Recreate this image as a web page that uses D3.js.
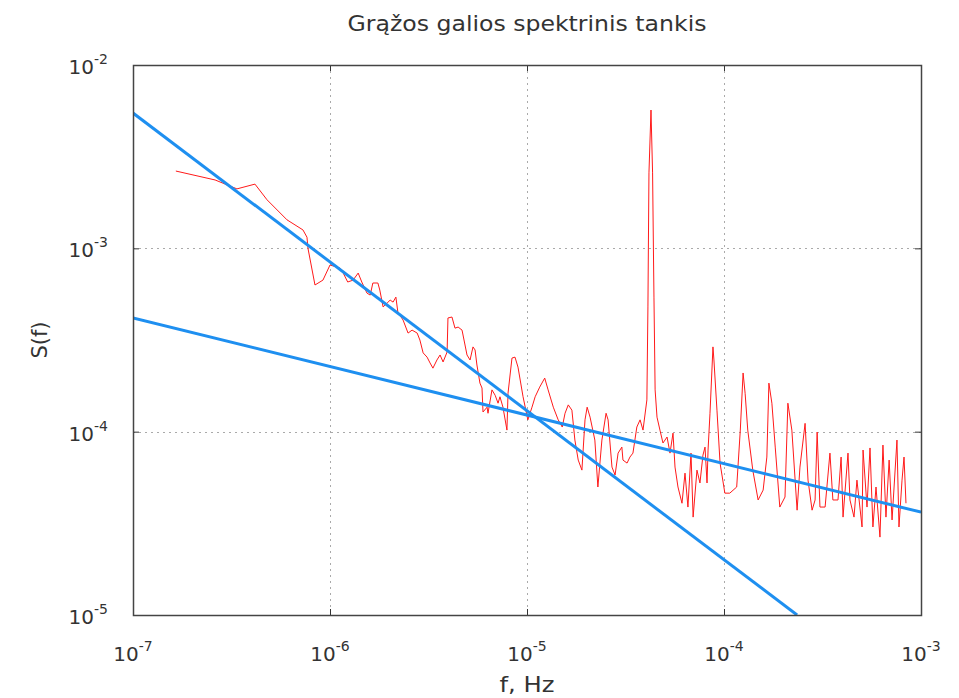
<!DOCTYPE html>
<html>
<head>
<meta charset="utf-8">
<script src="https://cdn.jsdelivr.net/npm/d3@7"></script>
<style>
  html, body { margin: 0; padding: 0; background: #fff; }
  svg { display: block; }
  text { font-family: "DejaVu Sans", Verdana, sans-serif; fill: #333; }
</style>
</head>
<body>
<svg id="chart" width="959" height="698"></svg>
<script>
// ---- data ----
const title = "Grąžos galios spektrinis tankis";
const xLabel = "f, Hz";
const yLabel = "S(f)";
const xTickExps = [-7, -6, -5, -4, -3];
const yTickExps = [-5, -4, -3, -2];

// measured spectrum: frequency (Hz)
const freq = [
  1.65e-7, 2.61e-7, 3.37e-7, 4.16e-7, 4.79e-7, 6.05e-7, 7.29e-7, 7.64e-7, 7.73e-7, 8.39e-7,
  9.21e-7, 1.00e-6, 1.12e-6, 1.16e-6, 1.23e-6, 1.31e-6, 1.39e-6, 1.45e-6, 1.54e-6, 1.60e-6,
  1.65e-6, 1.75e-6, 1.79e-6, 1.86e-6, 1.95e-6, 2.02e-6, 2.09e-6, 2.16e-6, 2.21e-6, 2.35e-6,
  2.49e-6, 2.61e-6, 2.77e-6, 2.86e-6, 2.97e-6, 3.11e-6, 3.22e-6, 3.33e-6, 3.49e-6, 3.62e-6,
  3.75e-6, 3.93e-6, 3.97e-6, 4.16e-6, 4.31e-6, 4.47e-6, 4.68e-6, 4.96e-6, 5.14e-6, 5.32e-6,
  5.45e-6, 5.57e-6, 5.77e-6, 5.91e-6, 5.98e-6, 6.27e-6, 6.34e-6, 6.64e-6, 6.89e-6, 7.13e-6,
  7.29e-6, 7.55e-6, 7.91e-6, 8.01e-6, 8.39e-6, 8.69e-6, 9.00e-6, 9.55e-6, 1.01e-5, 1.06e-5,
  1.10e-5, 1.16e-5, 1.23e-5, 1.28e-5, 1.36e-5, 1.44e-5, 1.51e-5, 1.56e-5, 1.62e-5, 1.69e-5,
  1.75e-5, 1.82e-5, 1.90e-5, 1.97e-5, 2.02e-5, 2.09e-5, 2.21e-5, 2.29e-5, 2.40e-5, 2.52e-5,
  2.58e-5, 2.70e-5, 2.80e-5, 2.90e-5, 3.03e-5, 3.07e-5, 3.22e-5, 3.33e-5, 3.45e-5, 3.61e-5,
  3.75e-5, 3.88e-5, 4.06e-5, 4.11e-5, 4.16e-5, 4.26e-5, 4.34e-5, 4.41e-5, 4.47e-5, 4.57e-5,
  4.73e-5, 4.90e-5, 5.14e-5, 5.32e-5, 5.51e-5, 5.64e-5, 5.84e-5, 6.12e-5, 6.34e-5, 6.56e-5,
  6.80e-5, 6.97e-5, 7.29e-5, 7.55e-5, 7.82e-5, 8.01e-5, 8.20e-5, 8.30e-5, 8.49e-5, 8.79e-5,
  8.89e-5, 9.21e-5, 9.55e-5, 1.01e-4, 1.07e-4, 1.16e-4, 1.21e-4, 1.25e-4, 1.28e-4, 1.32e-4,
  1.40e-4, 1.49e-4, 1.58e-4, 1.65e-4, 1.69e-4, 1.75e-4, 1.82e-4, 1.92e-4, 2.04e-4, 2.11e-4,
  2.21e-4, 2.35e-4, 2.43e-4, 2.58e-4, 2.67e-4, 2.80e-4, 2.90e-4, 2.97e-4, 3.07e-4, 3.26e-4,
  3.45e-4, 3.57e-4, 3.79e-4, 3.93e-4, 4.02e-4, 4.26e-4, 4.36e-4, 4.57e-4, 4.73e-4, 5.02e-4,
  5.08e-4, 5.32e-4, 5.51e-4, 5.70e-4, 5.91e-4, 6.19e-4, 6.41e-4, 6.64e-4, 6.89e-4, 7.13e-4,
  7.55e-4, 7.73e-4, 8.01e-4, 8.20e-4, 8.39e-4
];
// measured spectrum: power spectral density S(f)
const psd = [
  2.64e-3, 2.36e-3, 2.11e-3, 2.24e-3, 1.84e-3, 1.43e-3, 1.26e-3, 1.15e-3, 1.00e-3, 6.31e-4,
  6.71e-4, 8.11e-4, 7.82e-4, 7.43e-4, 6.55e-4, 6.71e-4, 7.33e-4, 6.55e-4, 5.70e-4, 5.56e-4,
  6.47e-4, 6.47e-4, 5.92e-4, 4.79e-4, 5.03e-4, 5.22e-4, 5.09e-4, 5.42e-4, 4.49e-4, 4.06e-4,
  3.45e-4, 3.58e-4, 3.45e-4, 3.16e-4, 2.69e-4, 2.55e-4, 2.37e-4, 2.22e-4, 2.46e-4, 2.62e-4,
  2.40e-4, 2.72e-4, 4.17e-4, 4.22e-4, 3.67e-4, 3.72e-4, 3.58e-4, 2.62e-4, 2.46e-4, 2.90e-4,
  2.79e-4, 2.31e-4, 1.84e-4, 1.73e-4, 1.28e-4, 1.36e-4, 1.26e-4, 1.69e-4, 1.58e-4, 1.43e-4,
  1.55e-4, 1.36e-4, 1.02e-4, 1.62e-4, 2.52e-4, 2.55e-4, 2.25e-4, 1.55e-4, 1.16e-4, 1.36e-4,
  1.55e-4, 1.75e-4, 1.96e-4, 1.69e-4, 1.36e-4, 1.16e-4, 1.06e-4, 1.26e-4, 1.40e-4, 1.31e-4,
  9.0e-5, 7.0e-5, 6.17e-5, 1.16e-4, 1.36e-4, 1.20e-4, 9.0e-5, 4.99e-5, 9.0e-5, 1.26e-4,
  1.16e-4, 6.41e-5, 5.80e-5, 7.64e-5, 8.24e-5, 7.0e-5, 6.74e-5, 7.27e-5, 7.64e-5, 1.06e-4,
  1.16e-4, 1.02e-4, 1.49e-4, 4.79e-4, 2.58e-3, 5.68e-3, 2.58e-3, 5.42e-4, 1.69e-4, 1.20e-4,
  1.02e-4, 8.67e-5, 9.35e-5, 7.64e-5, 9.82e-5, 6.41e-5, 4.99e-5, 4.07e-5, 5.94e-5, 3.88e-5,
  7.64e-5, 3.42e-5, 6.17e-5, 5.25e-5, 7.45e-5, 8.24e-5, 5.25e-5, 7.94e-5, 1.26e-4, 2.90e-4,
  2.46e-4, 1.31e-4, 6.74e-5, 4.62e-5, 4.62e-5, 4.99e-5, 1.02e-4, 2.09e-4, 1.62e-4, 1.02e-4,
  6.17e-5, 4.24e-5, 4.80e-5, 7.27e-5, 1.84e-4, 1.43e-4, 8.24e-5, 3.88e-5, 4.40e-5, 1.43e-4,
  1.02e-4, 3.73e-5, 6.41e-5, 1.11e-4, 5.44e-5, 3.73e-5, 4.24e-5, 9.95e-5, 3.88e-5, 3.88e-5,
  7.64e-5, 4.24e-5, 4.24e-5, 7.27e-5, 3.42e-5, 7.64e-5, 4.24e-5, 3.42e-5, 5.44e-5, 3.02e-5,
  7.94e-5, 3.88e-5, 8.15e-5, 3.02e-5, 4.99e-5, 2.66e-5, 8.45e-5, 3.42e-5, 7.0e-5, 3.30e-5,
  9.0e-5, 3.02e-5, 5.44e-5, 7.27e-5, 4.07e-5
];
// fitted power-law lines (end points: frequency, S)
const fitSteepF = [1e-7, 2.35e-4];
const fitSteepS = [5.47e-3, 1e-5];
const fitShallowF = [1e-7, 1e-3];
const fitShallowS = [4.17e-4, 3.64e-5];

// ---- layout ----
const W = 959, H = 698;
const m = { left: 133, right: 38, top: 65, bottom: 83 };
const iw = W - m.left - m.right, ih = H - m.top - m.bottom;

const svg = d3.select("#chart");
const x = d3.scaleLog().domain([1e-7, 1e-3]).range([m.left, m.left + iw]);
const y = d3.scaleLog().domain([1e-5, 1e-2]).range([m.top + ih, m.top]);

const xTicks = xTickExps.map(e => Math.pow(10, e));
const yTicks = yTickExps.map(e => Math.pow(10, e));

// grid
const grid = svg.append("g").attr("stroke", "#aaa").attr("stroke-width", 1)
  .attr("stroke-dasharray", "2,4");
xTicks.slice(1, -1).forEach(v => {
  grid.append("line").attr("x1", Math.round(x(v)) + 0.5).attr("x2", Math.round(x(v)) + 0.5)
    .attr("y1", m.top).attr("y2", m.top + ih);
});
yTicks.slice(1, -1).forEach(v => {
  grid.append("line").attr("y1", Math.round(y(v)) + 0.5).attr("y2", Math.round(y(v)) + 0.5)
    .attr("x1", m.left).attr("x2", m.left + iw);
});

// axes (ticks inward, no labels from d3)
const tickLen = 6;
svg.append("g").attr("transform", `translate(0,${m.top + ih})`)
  .call(d3.axisBottom(x).tickValues(xTicks).tickSize(-tickLen).tickFormat(""))
  .call(g => g.select(".domain").remove());
svg.append("g").attr("transform", `translate(0,${m.top})`)
  .call(d3.axisTop(x).tickValues(xTicks).tickSize(-tickLen).tickFormat(""))
  .call(g => g.select(".domain").remove());
svg.append("g").attr("transform", `translate(${m.left},0)`)
  .call(d3.axisLeft(y).tickValues(yTicks).tickSize(-tickLen).tickFormat(""))
  .call(g => g.select(".domain").remove());
svg.append("g").attr("transform", `translate(${m.left + iw},0)`)
  .call(d3.axisRight(y).tickValues(yTicks).tickSize(-tickLen).tickFormat(""))
  .call(g => g.select(".domain").remove());
svg.selectAll(".tick line").attr("stroke", "#333");

// clip
svg.append("clipPath").attr("id", "clip").append("rect")
  .attr("x", m.left).attr("y", m.top).attr("width", iw).attr("height", ih);

const line = d3.line().x(d => x(d[0])).y(d => y(d[1]));

// spectrum
svg.append("path")
  .datum(freq.map((f, i) => [f, psd[i]]))
  .attr("clip-path", "url(#clip)")
  .attr("fill", "none").attr("stroke", "#ff1a1a").attr("stroke-width", 1)
  .attr("d", line);

// fit lines
[[fitSteepF, fitSteepS], [fitShallowF, fitShallowS]].forEach(([fs, ss]) => {
  svg.append("path")
    .datum(fs.map((f, i) => [f, ss[i]]))
    .attr("clip-path", "url(#clip)")
    .attr("fill", "none").attr("stroke", "#1e8ff0").attr("stroke-width", 3)
    .attr("d", line);
});

// frame
svg.append("rect").attr("x", m.left + 0.5).attr("y", m.top + 0.5)
  .attr("width", iw).attr("height", ih)
  .attr("fill", "none").attr("stroke", "#444").attr("stroke-width", 1.5);

// tick labels
function powLabel(sel, exp) {
  sel.append("tspan").text("10");
  sel.append("tspan").attr("dy", -10).attr("font-size", 14).text(exp < 0 ? "-" + (-exp) : String(exp));
}
xTickExps.forEach(e => {
  const t = svg.append("text").attr("x", x(Math.pow(10, e))).attr("y", m.top + ih + 46)
    .attr("text-anchor", "middle").attr("font-size", 20);
  powLabel(t, e);
});
yTickExps.forEach(e => {
  const t = svg.append("text").attr("x", m.left - 25).attr("y", y(Math.pow(10, e)) + 9)
    .attr("text-anchor", "end").attr("font-size", 20);
  powLabel(t, e);
});

// titles
svg.append("text").attr("x", m.left + iw / 2).attr("y", 31)
  .attr("text-anchor", "middle").attr("font-size", 21)
  .attr("textLength", 359).attr("lengthAdjust", "spacingAndGlyphs").text(title);
svg.append("text").attr("x", m.left + iw / 2).attr("y", 692)
  .attr("text-anchor", "middle").attr("font-size", 21)
  .attr("textLength", 55).attr("lengthAdjust", "spacingAndGlyphs").text(xLabel);
svg.append("text").attr("transform", `translate(47,${m.top + ih / 2}) rotate(-90)`)
  .attr("text-anchor", "middle").attr("font-size", 21).text(yLabel);
</script>
</body>
</html>
